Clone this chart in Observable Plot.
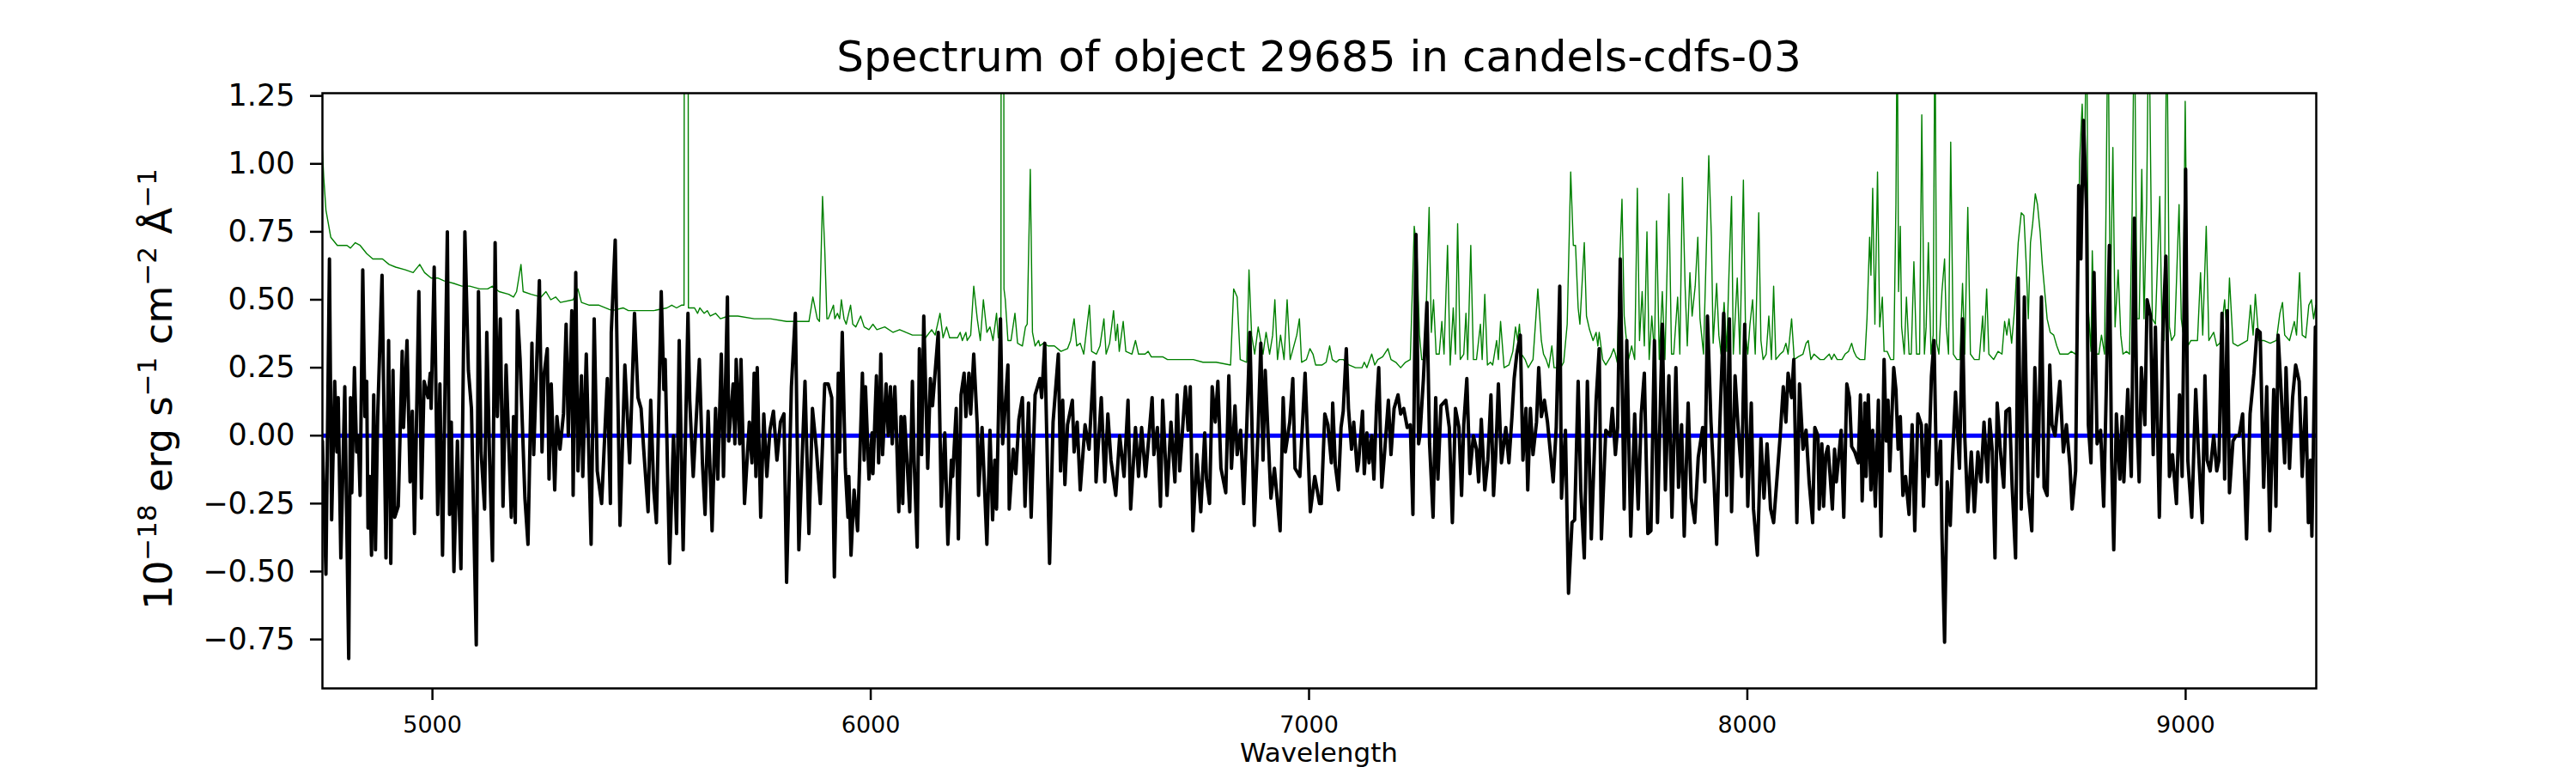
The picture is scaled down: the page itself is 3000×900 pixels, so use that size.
<!DOCTYPE html>
<html>
<head>
<meta charset="utf-8">
<script src="https://cdn.jsdelivr.net/npm/d3@7"></script>
<script src="https://cdn.jsdelivr.net/npm/@observablehq/plot@0.6"></script>
<style>
  html, body { margin: 0; padding: 0; background: white; }
</style>
</head>
<body>
<div id="chart"></div>
<script>
const titleText = "Spectrum of object 29685 in candels-cdfs-03";
const xLabelText = "Wavelength";
const xTicks = [5000, 6000, 7000, 8000, 9000];
const yTicks = [-0.75, -0.5, -0.25, 0, 0.25, 0.5, 0.75, 1.0, 1.25];
const xDomain = [4749, 9298];
const yDomain = [-0.93, 1.26];
const zeroLevel = [0];

// observed flux [wavelength, value]
const flux = [
[4749,-0.02],[4757,-0.51],[4765,0.65],[4770,-0.31],[4777,0.20],[4782,-0.06],[4785,0.14],[4791,-0.45],[4800,0.18],[4809,-0.82],[4813,0.14],[4816,-0.21],[4822,0.25],[4827,-0.06],[4831,0.00],[4835,-0.22],[4841,0.61],[4846,0.07],[4850,0.20],[4853,-0.34],[4857,-0.15],[4861,-0.44],[4866,0.15],[4870,-0.42],[4875,0.07],[4885,0.59],[4894,-0.45],[4900,0.35],[4905,-0.47],[4910,0.24],[4914,-0.30],[4922,-0.26],[4931,0.31],[4934,0.03],[4942,0.35],[4949,-0.17],[4954,0.09],[4959,-0.36],[4969,0.53],[4975,-0.23],[4981,0.20],[4990,0.14],[4995,0.23],[4997,0.10],[5004,0.62],[5012,-0.29],[5017,0.19],[5023,-0.44],[5034,0.75],[5039,-0.29],[5043,0.05],[5049,-0.50],[5057,-0.02],[5065,-0.49],[5074,0.75],[5082,0.24],[5089,0.10],[5100,-0.77],[5105,0.53],[5111,-0.06],[5119,-0.27],[5124,0.38],[5130,-0.06],[5137,-0.46],[5143,0.71],[5148,0.07],[5155,0.43],[5161,-0.26],[5168,0.26],[5180,-0.30],[5185,0.07],[5189,-0.32],[5194,0.46],[5200,0.28],[5211,-0.23],[5218,-0.40],[5227,0.34],[5231,-0.07],[5244,0.57],[5250,-0.06],[5255,0.23],[5262,0.32],[5266,-0.16],[5271,0.19],[5279,-0.20],[5284,0.07],[5291,-0.05],[5299,0.08],[5305,0.41],[5310,0.00],[5318,0.46],[5321,-0.22],[5327,0.60],[5332,-0.13],[5340,0.22],[5343,-0.15],[5351,0.30],[5362,-0.40],[5369,0.43],[5376,-0.13],[5386,-0.25],[5399,0.21],[5406,-0.25],[5408,0.38],[5417,0.72],[5428,-0.33],[5439,0.26],[5450,-0.10],[5461,0.45],[5469,0.14],[5476,0.10],[5482,-0.05],[5492,-0.28],[5498,0.13],[5505,-0.20],[5511,-0.32],[5522,0.53],[5528,0.17],[5531,0.28],[5541,-0.47],[5550,0.00],[5557,-0.36],[5563,0.35],[5572,-0.42],[5583,0.45],[5587,0.13],[5595,-0.15],[5609,0.28],[5616,-0.10],[5622,-0.29],[5629,0.09],[5638,-0.35],[5646,0.10],[5651,-0.16],[5659,0.30],[5664,-0.15],[5673,0.51],[5676,-0.02],[5686,0.19],[5690,-0.03],[5693,0.28],[5701,-0.03],[5704,0.28],[5712,-0.25],[5723,0.05],[5729,-0.10],[5734,0.23],[5738,-0.15],[5741,0.25],[5749,-0.30],[5756,0.08],[5763,-0.15],[5770,0.02],[5778,0.09],[5786,-0.09],[5794,0.05],[5802,0.08],[5808,-0.54],[5819,0.18],[5828,0.45],[5836,-0.42],[5841,-0.19],[5850,0.20],[5859,-0.36],[5867,0.10],[5876,-0.05],[5885,-0.25],[5895,0.19],
[5903,0.19],[5911,0.14],[5917,-0.52],[5926,0.23],[5929,-0.06],[5935,0.38],[5942,-0.12],[5948,-0.30],[5950,-0.15],[5955,-0.44],[5962,-0.20],[5970,-0.35],[5981,0.23],[5985,-0.09],[5988,0.18],[5996,-0.16],[6003,0.01],[6005,-0.14],[6013,0.22],[6018,-0.10],[6023,0.30],[6027,-0.07],[6035,0.19],[6040,0.00],[6045,0.18],[6049,-0.03],[6055,0.18],[6058,0.05],[6064,-0.28],[6069,0.07],[6073,-0.25],[6077,0.07],[6083,-0.10],[6089,-0.28],[6095,0.20],[6099,-0.09],[6106,-0.41],[6111,0.32],[6116,-0.07],[6121,0.44],[6130,-0.12],[6136,0.21],[6141,0.11],[6154,0.38],[6161,-0.26],[6169,0.01],[6176,-0.40],[6184,-0.09],[6187,-0.15],[6195,0.10],[6200,-0.38],[6206,0.15],[6213,0.23],[6217,0.07],[6224,0.23],[6228,0.08],[6235,0.30],[6243,0.04],[6246,-0.22],[6254,0.03],[6265,-0.40],[6272,0.02],[6278,-0.31],[6283,-0.09],[6287,-0.27],[6296,0.43],[6301,-0.03],[6313,0.26],[6316,-0.27],[6325,-0.05],[6331,-0.14],[6338,0.06],[6346,0.14],[6352,-0.26],[6360,0.12],[6366,-0.30],[6375,0.15],[6386,0.21],[6390,0.14],[6397,0.34],[6408,-0.47],[6416,0.05],[6428,0.30],[6433,-0.13],[6438,0.13],[6443,-0.18],[6449,0.04],[6460,0.13],[6464,-0.06],[6471,0.05],[6478,-0.20],[6489,0.04],[6498,-0.05],[6509,0.27],[6514,-0.17],[6526,0.14],[6534,-0.17],[6541,0.08],[6548,-0.09],[6559,-0.22],[6568,0.00],[6578,-0.15],[6587,0.13],[6593,-0.27],[6604,0.03],[6611,-0.15],[6618,0.03],[6627,-0.15],[6642,0.14],[6646,-0.07],[6654,0.03],[6661,-0.26],[6666,0.13],[6676,-0.22],[6685,0.05],[6694,-0.17],[6699,0.15],[6705,-0.13],[6718,0.18],[6724,0.02],[6729,0.18],[6735,-0.35],[6744,-0.07],[6753,-0.28],[6762,0.01],[6766,-0.16],[6773,-0.25],[6779,0.18],[6786,0.05],[6792,0.20],[6799,-0.12],[6810,-0.21],[6817,0.22],[6823,-0.12],[6831,0.11],[6836,-0.07],[6844,0.02],[6851,-0.25],[6858,0.04],[6865,0.38],[6875,-0.33],[6884,0.03],[6890,0.34],[6895,-0.09],[6900,0.24],[6913,-0.23],[6921,-0.12],[6934,-0.35],[6941,0.14],[6946,-0.06],[6956,0.05],[6963,0.21],[6968,-0.12],[6979,-0.15],[6991,0.23],[7003,-0.28],[7013,-0.15],[7024,-0.25],
[7028,-0.25],[7036,0.08],[7043,0.04],[7051,-0.10],[7054,0.12],[7060,-0.11],[7067,-0.20],[7073,0.03],[7078,0.09],[7085,0.32],[7090,0.10],[7097,-0.05],[7102,0.05],[7110,-0.13],[7113,-0.10],[7122,0.09],[7126,-0.14],[7132,0.01],[7137,-0.10],[7143,0.00],[7148,-0.16],[7154,0.11],[7159,0.25],[7166,-0.19],[7172,-0.07],[7181,0.13],[7187,-0.07],[7194,0.10],[7203,0.15],[7209,0.08],[7216,0.10],[7224,0.03],[7231,0.04],[7237,-0.29],[7244,0.74],[7250,-0.03],[7253,0.00],[7261,0.21],[7269,0.49],[7275,-0.03],[7283,-0.30],[7289,0.14],[7294,-0.16],[7301,0.11],[7312,0.13],[7320,0.03],[7327,-0.32],[7334,0.10],[7342,0.03],[7348,-0.22],[7353,0.04],[7360,0.21],[7367,-0.14],[7375,0.00],[7382,-0.05],[7387,-0.17],[7393,0.06],[7401,-0.20],[7408,-0.09],[7415,0.15],[7421,-0.22],[7426,-0.07],[7432,0.19],[7439,-0.10],[7449,0.03],[7456,-0.10],[7463,0.07],[7468,0.21],[7474,0.30],[7482,0.37],[7488,-0.09],[7495,0.10],[7499,-0.20],[7505,0.10],[7511,-0.07],[7519,0.05],[7524,0.25],[7530,0.07],[7537,0.13],[7544,0.05],[7557,-0.17],[7564,0.03],[7572,0.55],[7576,-0.23],[7585,0.02],[7592,-0.58],[7600,-0.32],[7606,-0.31],[7614,0.20],[7620,-0.20],[7628,-0.45],[7635,0.20],[7644,-0.38],[7655,0.13],[7662,0.32],[7667,-0.38],[7677,0.02],[7687,0.00],[7692,0.10],[7699,-0.07],[7704,0.03],[7710,0.65],[7719,-0.27],[7725,0.35],[7734,-0.37],[7743,0.08],[7751,-0.27],[7758,0.08],[7765,0.23],[7773,-0.36],[7780,-0.35],[7788,0.35],[7795,-0.32],[7806,0.41],[7813,-0.20],[7821,0.22],[7828,-0.30],[7837,0.25],[7843,-0.19],[7850,0.04],[7856,-0.37],[7865,0.12],[7872,-0.23],[7880,-0.32],[7888,-0.08],[7898,0.03],[7903,-0.17],[7909,0.44],[7917,0.05],[7924,-0.17],[7930,-0.40],[7937,0.03],[7946,0.45],[7953,-0.22],[7959,0.43],[7964,-0.28],[7972,0.22],[7979,0.03],[7987,-0.15],[7994,0.41],[8001,-0.26],[8009,0.12],[8014,-0.27],[8023,-0.44],[8031,-0.01],[8038,-0.23],[8045,-0.03],[8053,-0.27],[8060,-0.32],[8068,-0.15],[8075,0.00],[8082,0.18],[8088,0.05],[8093,0.23],[8101,0.14],[8106,0.28],[8113,-0.32],[8119,0.19],[8127,-0.05],[8134,0.02],[8141,-0.17],[8149,-0.32],[8154,0.03],[8161,0.00],
[8164,-0.27],[8170,-0.03],[8174,-0.26],[8179,-0.07],[8184,-0.04],[8189,-0.15],[8194,-0.27],[8199,-0.05],[8203,-0.17],[8209,-0.07],[8214,0.02],[8220,-0.30],[8227,0.19],[8233,0.14],[8238,-0.04],[8245,-0.06],[8253,-0.10],[8258,0.15],[8262,-0.24],[8268,0.12],[8271,-0.15],[8276,0.15],[8282,-0.20],[8286,0.02],[8292,-0.26],[8299,0.13],[8305,-0.37],[8312,0.28],[8317,-0.02],[8321,0.13],[8325,-0.13],[8334,0.25],[8339,0.17],[8344,-0.05],[8349,0.07],[8355,-0.22],[8361,-0.15],[8369,-0.29],[8376,0.04],[8382,-0.35],[8389,0.08],[8397,0.04],[8402,-0.26],[8408,0.04],[8413,-0.15],[8420,0.22],[8426,0.35],[8432,-0.18],[8441,-0.02],[8444,-0.36],[8450,-0.76],[8456,-0.17],[8463,-0.33],[8468,-0.09],[8475,0.16],[8484,-0.12],[8491,0.43],[8496,0.00],[8503,-0.28],[8511,-0.06],[8518,-0.28],[8526,-0.06],[8533,-0.17],[8540,0.05],[8548,-0.17],[8553,0.06],[8559,-0.06],[8565,-0.45],[8570,0.12],[8577,-0.05],[8585,-0.19],[8590,0.09],[8598,0.10],[8604,-0.18],[8612,-0.45],[8618,0.58],[8625,-0.27],[8632,0.51],[8641,-0.21],[8649,-0.35],[8656,0.25],[8663,-0.15],[8671,0.51],[8677,-0.19],[8684,-0.22],[8690,0.26],[8695,0.04],[8702,0.00],[8713,0.20],[8721,-0.06],[8728,0.04],[8736,-0.11],[8741,-0.27],[8749,-0.13],[8756,0.92],[8761,0.65],[8767,1.16],[8774,0.83],[8778,0.04],[8784,-0.10],[8791,0.60],[8798,-0.03],[8806,0.02],[8813,-0.26],[8818,0.10],[8826,0.70],[8831,-0.08],[8836,-0.42],[8842,0.08],[8850,-0.16],[8855,0.07],[8859,-0.17],[8868,0.17],[8876,-0.15],[8883,0.80],[8889,0.05],[8894,-0.17],[8899,0.25],[8907,0.04],[8912,0.50],[8920,0.44],[8926,-0.07],[8931,0.40],[8940,-0.30],[8948,0.38],[8955,0.66],[8963,-0.15],[8970,-0.07],[8979,-0.25],[8986,0.15],[8992,-0.15],[9000,0.98],[9005,-0.09],[9014,-0.30],[9023,0.17],[9029,-0.05],[9038,-0.32],[9044,0.22],[9049,-0.09],[9056,-0.13],[9064,0.00],[9071,-0.13],[9076,-0.09],[9083,0.45],[9089,-0.16],[9095,0.46],[9100,-0.21],[9108,-0.02],[9115,0.00],[9122,0.00],[9130,0.08],[9139,-0.38],[9147,0.08],[9156,0.23],[9163,0.39],[9170,0.38],[9178,-0.19],[9185,0.18],[9192,-0.35],[9201,0.17],[9206,-0.26],[9211,0.37],[9218,0.16],[9226,-0.10],[9229,0.25],[9237,-0.12],[9244,0.14],[9251,0.26],[9259,0.20],[9266,-0.15],[9274,0.14],[9280,-0.32],[9285,-0.09],[9288,-0.37],[9296,0.40],[9298,0.40]
];

// noise / sky [wavelength, value]
const noise = [
[4749,1.05],[4752,0.95],[4757,0.83],[4768,0.73],[4783,0.70],[4805,0.70],[4813,0.69],[4824,0.71],[4835,0.70],[4850,0.67],[4864,0.65],[4886,0.65],[4901,0.63],[4916,0.62],[4938,0.61],[4956,0.60],[4971,0.63],[4982,0.60],[4997,0.58],[5012,0.58],[5026,0.57],[5049,0.56],[5067,0.55],[5085,0.55],[5108,0.54],[5126,0.54],[5137,0.55],[5152,0.53],[5174,0.52],[5185,0.51],[5192,0.53],[5202,0.63],[5207,0.53],[5225,0.52],[5248,0.51],[5259,0.53],[5270,0.50],[5281,0.51],[5292,0.49],[5321,0.50],[5332,0.54],[5340,0.49],[5358,0.48],[5380,0.48],[5410,0.46],[5435,0.47],[5447,0.46],[5461,0.46],[5476,0.46],[5505,0.46],[5535,0.47],[5546,0.48],[5557,0.47],[5568,0.48],[5574,0.48],[5576.5,5],[5581.5,5],[5584,0.47],[5598,0.47],[5605,0.45],[5610,0.47],[5620,0.45],[5627,0.46],[5634,0.44],[5646,0.45],[5657,0.43],[5675,0.44],[5697,0.44],[5734,0.43],[5771,0.43],[5808,0.42],[5845,0.42],[5859,0.42],[5868,0.51],[5878,0.43],[5883,0.42],
[5890,0.88],[5895,0.69],[5900,0.43],[5903,0.43],[5915,0.48],[5918,0.43],[5924,0.45],[5929,0.43],[5933,0.50],[5939,0.43],[5944,0.41],[5954,0.48],[5959,0.41],[5966,0.40],[5977,0.44],[5985,0.40],[5996,0.39],[6005,0.41],[6014,0.39],[6032,0.40],[6051,0.38],[6066,0.39],[6080,0.38],[6095,0.37],[6117,0.37],[6125,0.36],[6139,0.39],[6147,0.37],[6158,0.45],[6165,0.36],[6173,0.40],[6180,0.36],[6198,0.36],[6204,0.38],[6209,0.35],[6217,0.38],[6220,0.35],[6228,0.37],[6235,0.55],[6243,0.43],[6250,0.35],[6257,0.50],[6265,0.38],[6272,0.40],[6279,0.35],[6287,0.45],[6291,0.36],[6297,0.36],[6299.5,6],[6301.5,6],[6304,0.54],[6307,0.50],[6313,0.35],[6320,0.35],[6329,0.45],[6335,0.34],[6346,0.33],[6353,0.40],[6357,0.41],[6364,0.98],[6369,0.38],[6375,0.33],[6383,0.35],[6386,0.33],[6394,0.34],[6405,0.33],[6419,0.33],[6434,0.31],[6449,0.32],[6456,0.35],[6464,0.43],[6470,0.33],[6478,0.34],[6486,0.30],[6499,0.48],[6504,0.31],[6515,0.30],[6523,0.33],[6532,0.43],[6537,0.30],[6545,0.34],[6554,0.46],[6559,0.35],[6563,0.41],[6567,0.31],[6576,0.42],[6582,0.31],[6596,0.30],[6604,0.35],[6611,0.30],[6626,0.30],[6633,0.31],[6640,0.29],[6666,0.29],[6677,0.28],[6699,0.28],[6714,0.28],[6736,0.28],[6758,0.27],[6788,0.27],[6821,0.26],[6828,0.54],[6836,0.51],[6843,0.28],[6858,0.27],[6863,0.61],[6869,0.37],[6876,0.30],[6884,0.40],[6895,0.30],[6902,0.38],[6910,0.30],[6917,0.37],[6922,0.50],[6928,0.28],[6935,0.37],[6943,0.28],[6950,0.50],[6957,0.28],[6972,0.37],[6978,0.43],[6983,0.27],[6994,0.28],[7002,0.32],[7009,0.30],[7015,0.26],[7030,0.26],
[7039,0.27],[7047,0.33],[7053,0.28],[7062,0.27],[7069,0.28],[7078,0.28],[7084,0.27],[7091,0.26],[7106,0.25],[7121,0.25],[7126,0.27],[7132,0.25],[7143,0.30],[7150,0.26],[7157,0.28],[7168,0.29],[7180,0.32],[7187,0.28],[7198,0.27],[7209,0.25],[7220,0.27],[7231,0.28],[7240,0.77],[7246,0.68],[7252,0.37],[7257,0.28],[7264,0.28],[7274,0.84],[7279,0.38],[7284,0.50],[7290,0.30],[7297,0.30],[7303,0.42],[7308,0.30],[7316,0.70],[7322,0.26],[7329,0.47],[7334,0.30],[7339,0.78],[7345,0.28],[7353,0.30],[7358,0.45],[7362,0.28],[7369,0.70],[7375,0.28],[7382,0.28],[7391,0.41],[7395,0.28],[7401,0.52],[7407,0.26],[7414,0.27],[7419,0.26],[7428,0.35],[7432,0.28],[7437,0.42],[7445,0.25],[7456,0.26],[7465,0.31],[7471,0.40],[7476,0.35],[7480,0.41],[7485,0.30],[7493,0.28],[7500,0.25],[7511,0.28],[7522,0.54],[7530,0.35],[7535,0.30],[7541,0.28],[7547,0.25],[7554,0.33],[7559,0.25],[7574,0.25],[7581,0.27],[7589,0.41],[7597,0.97],[7603,0.70],[7608,0.70],[7614,0.47],[7618,0.41],[7628,0.71],[7633,0.44],[7640,0.39],[7648,0.35],[7655,0.38],[7659,0.33],[7662,0.38],[7670,0.28],[7677,0.26],[7688,0.29],[7695,0.32],[7699,0.30],[7703,0.27],[7709,0.65],[7714,0.87],[7719,0.44],[7723,0.37],[7729,0.28],[7736,0.33],[7743,0.28],[7749,0.91],[7754,0.35],[7760,0.53],[7765,0.33],[7771,0.75],[7776,0.28],[7782,0.44],[7788,0.30],[7793,0.79],[7799,0.28],[7806,0.53],[7812,0.28],[7821,0.89],[7827,0.30],[7832,0.30],[7841,0.51],[7846,0.30],[7852,0.95],[7858,0.55],[7863,0.33],[7869,0.60],[7874,0.44],[7881,0.55],[7887,0.73],[7892,0.43],[7900,0.30],[7905,0.60],[7912,1.03],[7918,0.73],[7922,0.34],[7930,0.56],[7935,0.37],[7940,0.30],[7947,0.49],[7953,0.31],[7958,0.59],[7964,0.88],[7968,0.30],[7977,0.58],[7983,0.30],[7991,0.94],[7996,0.37],[8001,0.30],[8006,0.41],[8012,0.50],[8018,0.30],[8026,0.82],[8031,0.35],[8036,0.28],[8043,0.30],[8049,0.44],[8055,0.28],[8060,0.55],[8065,0.28],[8075,0.30],[8082,0.31],[8088,0.34],[8093,0.30],[8101,0.43],[8107,0.28],[8116,0.29],[8127,0.30],[8134,0.34],[8139,0.35],[8145,0.28],[8152,0.30],[8166,0.28],
[8175,0.28],[8187,0.30],[8192,0.28],[8198,0.30],[8205,0.28],[8216,0.28],[8223,0.30],[8231,0.31],[8238,0.34],[8243,0.31],[8249,0.29],[8257,0.28],[8268,0.28],[8273,0.43],[8279,0.73],[8282,0.59],[8286,0.91],[8291,0.41],[8297,0.97],[8302,0.40],[8308,0.51],[8312,0.31],[8319,0.31],[8327,0.28],[8334,0.28],[8339,0.85],[8342,1.6],[8345,0.53],[8349,0.77],[8352,0.40],[8358,0.30],[8363,0.51],[8369,0.30],[8374,0.30],[8380,0.64],[8386,0.30],[8393,0.30],[8398,1.18],[8404,0.30],[8408,0.40],[8413,0.71],[8419,0.30],[8424,0.37],[8428,1.6],[8432,0.34],[8437,0.30],[8444,0.53],[8450,0.65],[8454,0.40],[8459,0.30],[8464,1.08],[8470,0.30],[8478,0.28],[8485,0.28],[8491,0.56],[8496,0.30],[8503,0.84],[8509,0.30],[8518,0.28],[8529,0.28],[8537,0.44],[8540,0.31],[8546,0.54],[8551,0.30],[8562,0.28],[8572,0.31],[8581,0.30],[8587,0.42],[8592,0.37],[8597,0.43],[8603,0.34],[8610,0.47],[8618,0.71],[8625,0.82],[8631,0.81],[8636,0.64],[8641,0.43],[8646,0.71],[8651,0.78],[8657,0.89],[8662,0.85],[8668,0.75],[8673,0.63],[8678,0.54],[8684,0.43],[8691,0.38],[8699,0.37],[8706,0.33],[8713,0.30],[8725,0.30],[8732,0.30],[8739,0.31],[8749,0.30],[8754,0.37],[8758,1.01],[8764,1.22],[8769,0.93],[8774,1.6],[8778,0.47],[8784,0.31],[8787,0.68],[8793,0.30],[8802,0.30],[8808,0.37],[8815,0.30],[8823,1.6],[8828,0.44],[8834,1.06],[8839,0.40],[8846,0.61],[8852,0.37],[8857,0.30],[8865,0.31],[8872,0.30],[8878,0.83],[8883,1.6],[8889,0.43],[8894,0.43],[8900,0.98],[8905,0.43],[8911,0.85],[8916,1.6],[8924,0.43],[8931,0.41],[8941,0.88],[8946,0.40],[8951,0.35],[8957,1.6],[8963,0.40],[8968,0.35],[8975,0.37],[8985,0.85],[8990,0.43],[8994,0.38],[8999,1.23],[9005,0.33],[9012,0.35],[9027,0.35],[9034,0.60],[9039,0.37],[9047,0.77],[9053,0.35],[9064,0.38],[9071,0.33],[9078,0.34],[9089,0.50],[9095,0.35],[9100,0.58],[9108,0.34],[9119,0.33],[9130,0.34],[9141,0.35],[9148,0.48],[9154,0.37],[9159,0.52],[9167,0.35],[9178,0.35],[9193,0.34],[9207,0.35],[9215,0.45],[9221,0.49],[9226,0.37],[9237,0.35],[9248,0.42],[9253,0.37],[9260,0.60],[9266,0.37],[9274,0.36],[9281,0.48],[9287,0.50],[9292,0.43],[9297,0.48]
];

const font = "DejaVu Sans";

const chart = Plot.plot({
  width: 3000,
  height: 900,
  marginLeft: 375,
  marginRight: 303,
  marginTop: 108,
  marginBottom: 99,
  style: {fontFamily: font, background: "white", overflow: "visible"},
  x: {domain: xDomain},
  y: {domain: yDomain},
  marks: [
    Plot.line(noise, {x: d => d[0], y: d => d[1], stroke: "green", strokeWidth: 1.4, clip: true}),
    Plot.ruleY(zeroLevel, {stroke: "#0000ff", strokeWidth: 5}),
    Plot.line(flux, {x: d => d[0], y: d => d[1], stroke: "black", strokeWidth: 4, clip: true}),
    Plot.axisX({ticks: xTicks, tickFormat: d3.format("d"), tickSize: 14, tickPadding: 18, fontSize: 27, strokeWidth: 2.5, label: null}),
    Plot.axisY({ticks: yTicks, tickFormat: d3.format(".2f"), tickSize: 14, tickPadding: 18, fontSize: 35, strokeWidth: 2.5, label: null}),
    Plot.frame({stroke: "black", strokeWidth: 2.5})
  ]
});

document.getElementById("chart").appendChild(chart);

const svg = d3.select(chart);
svg.append("text")
  .attr("x", 1536).attr("y", 83)
  .attr("text-anchor", "middle")
  .attr("font-family", font).attr("font-size", 50).attr("fill", "black")
  .text(titleText);

svg.append("text")
  .attr("x", 1536).attr("y", 887)
  .attr("text-anchor", "middle")
  .attr("font-family", font).attr("font-size", 31).attr("fill", "black")
  .text(xLabelText);

const yl = svg.append("text")
  .attr("transform", "translate(200,453) rotate(-90)")
  .attr("text-anchor", "middle")
  .attr("font-family", font).attr("font-size", 45).attr("fill", "black");
const parts = [["10", false], ["\u221218", true], [" erg s", false], ["\u22121", true], [" cm", false], ["\u22122", true], [" \u00c5", false], ["\u22121", true]];
let raised = false;
for (const [t, sup] of parts) {
  const ts = yl.append("tspan").text(t);
  if (sup) {
    ts.attr("font-size", 31).attr("dy", raised ? 0 : -18);
    raised = true;
  } else {
    ts.attr("dy", raised ? 18 : 0);
    raised = false;
  }
}
</script>
</body>
</html>
